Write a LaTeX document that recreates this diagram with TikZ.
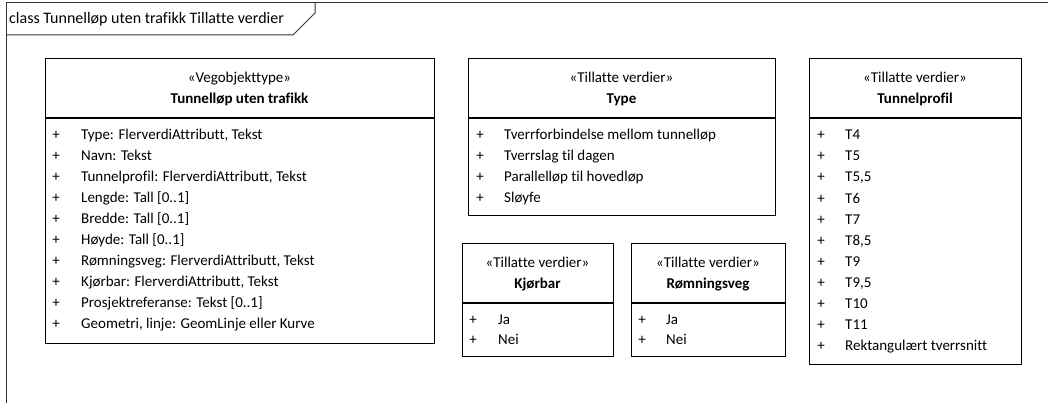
\documentclass[tikz,border=0pt]{standalone}
\usepackage{fontspec}
\setmainfont[Ligatures=NoCommon]{Carlito}
\begin{document}
\begin{tikzpicture}[x=1pt,y=-1pt,
  umlbox/.style={draw=black, line width=1.4pt, fill=white, inner sep=0pt, anchor=north west},
  frameline/.style={draw=black!80, line width=1pt},
  attr/.style={anchor=west, inner sep=0pt, text height=10pt, text depth=2.5pt, font=\fontsize{15}{18}\selectfont},
  plus/.style={anchor=center, inner sep=0pt, text height=10pt, text depth=2.5pt, font=\fontsize{15}{18}\selectfont},
  stereo/.style={anchor=center, inner sep=0pt, text height=10pt, text depth=2.5pt, font=\fontsize{15}{18}\selectfont},
  cname/.style={anchor=center, inner sep=0pt, text height=10pt, text depth=2.5pt, font=\fontsize{15}{18}\selectfont\bfseries},
  title/.style={anchor=west, inner sep=0pt, text height=10.5pt, text depth=3pt, font=\fontsize{16}{19}\selectfont}
]
\useasboundingbox (0,0) rectangle (1048,403);
% frame
\draw[frameline] (6,403) -- (6,2.5) -- (1048,2.5);
\draw[frameline] (6,35) -- (293,35) -- (315,13) -- (315,2.5);
\node[title] (ttl) at (9,20) {class Tunnelløp uten trafikk Tillatte verdier};

% ---------- Tunnelløp uten trafikk
\node[umlbox, minimum width=389pt, minimum height=285pt] (tul) at (45,58) {};
\draw[line width=1.4pt] (45,118) -- (434,118);
\node[stereo] (tuls) at (239.5,79) {«Vegobjekttype»};
\node[cname] (tuln) at (239.5,100) {Tunnelløp uten trafikk};
\foreach \t [count=\i from 0] in {{Type: FlerverdiAttributt, Tekst}, {Navn: Tekst}, {Tunnelprofil: FlerverdiAttributt, Tekst}, {Lengde: Tall [0..1]}, {Bredde: Tall [0..1]}, {Høyde: Tall [0..1]}, {Rømningsveg: FlerverdiAttributt, Tekst}, {Kjørbar: FlerverdiAttributt, Tekst}, {Prosjektreferanse: Tekst [0..1]}, {Geometri, linje: GeomLinje eller Kurve}}{
  \node[plus] (tulp\i) at (56,136+21*\i) {+};
  \node[attr] (tula\i) at (81,136+21*\i) {\t};
}

% ---------- Type
\node[umlbox, minimum width=307pt, minimum height=157pt] (typ) at (468,58) {};
\draw[line width=1.4pt] (468,118) -- (775,118);
\node[stereo] (typs) at (621.5,79) {«Tillatte verdier»};
\node[cname] (typn) at (621.5,100) {Type};
\foreach \t [count=\i from 0] in {Tverrforbindelse mellom tunnelløp, Tverrslag til dagen, Parallelløp til hovedløp, Sløyfe}{
  \node[plus] (typp\i) at (480,136+21*\i) {+};
  \node[attr] (typa\i) at (504,136+21*\i) {\t};
}

% ---------- Kjørbar
\node[umlbox, minimum width=151pt, minimum height=113pt] (kjb) at (462,243) {};
\draw[line width=1.4pt] (462,303) -- (613,303);
\node[stereo] (kjbs) at (537.5,264) {«Tillatte verdier»};
\node[cname] (kjbn) at (537.5,285) {Kjørbar};
\node[plus] (kjbp0) at (473,321) {+};
\node[attr] (kjba0) at (498,321) {Ja};
\node[plus] (kjbp1) at (473,341) {+};
\node[attr] (kjba1) at (498,341) {Nei};

% ---------- Rømningsveg
\node[umlbox, minimum width=154pt, minimum height=113pt] (rmv) at (631,243) {};
\draw[line width=1.4pt] (631,303) -- (785,303);
\node[stereo] (rmvs) at (708,264) {«Tillatte verdier»};
\node[cname] (rmvn) at (708,285) {Rømningsveg};
\node[plus] (rmvp0) at (642,321) {+};
\node[attr] (rmva0) at (666,321) {Ja};
\node[plus] (rmvp1) at (642,341) {+};
\node[attr] (rmva1) at (666,341) {Nei};

% ---------- Tunnelprofil
\node[umlbox, minimum width=212pt, minimum height=306pt] (tpr) at (809,58) {};
\draw[line width=1.4pt] (809,118) -- (1021,118);
\node[stereo] (tprs) at (915,79) {«Tillatte verdier»};
\node[cname] (tprn) at (915,100) {Tunnelprofil};
\foreach \t [count=\i from 0] in {T4, T5, {T5,5}, T6, T7, {T8,5}, T9, {T9,5}, T10, T11, Rektangulært tverrsnitt}{
  \node[plus] (tprp\i) at (821,136+21.1*\i) {+};
  \node[attr] (tpra\i) at (845,136+21.1*\i) {\t};
}
\end{tikzpicture}
\end{document}
